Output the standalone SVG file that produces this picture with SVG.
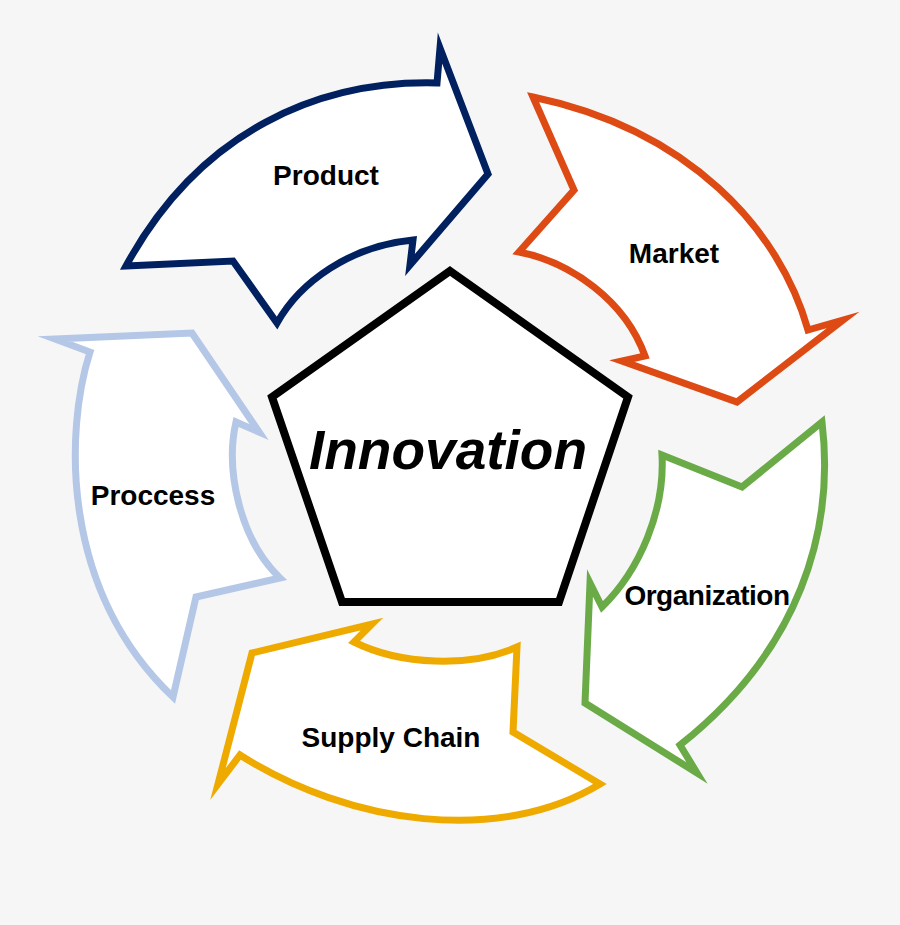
<svg xmlns="http://www.w3.org/2000/svg" width="900" height="925" viewBox="0 0 900 925">
<style>
.arrow{fill:#ffffff;stroke-width:7;stroke-linejoin:miter;stroke-miterlimit:12}
.lbl{font-family:"Liberation Sans",Arial,sans-serif;font-weight:bold;font-size:28px;fill:#000;text-anchor:middle}
.big{font-family:"Liberation Sans",Arial,sans-serif;font-weight:bold;font-style:italic;font-size:55px;fill:#000;text-anchor:middle}
</style>
<rect x="0" y="0" width="900" height="925" fill="#f6f6f6"/>
<g id="product">
<path class="arrow" stroke="#002060" d="M126 266 L233 261 L277 323 C300 282 350 246 413 240 L410 265 L488 174 L440 48 L437 83 C320 80 200 130 126 266 Z"/>
<text class="lbl" x="326" y="185">Product</text>
</g>
<g id="market">
<path class="arrow" stroke="#DE4A14" d="M533 97 L574 190 L519 252 C570 262 625 300 645 356 L622 361 L737 402 L843 320 L808 330 C780 230 690 130 533 97 Z"/>
<text class="lbl" x="674" y="263">Market</text>
</g>
<g id="organization">
<path class="arrow" stroke="#6AAB48" d="M662 455 L742 487 L822 422 C835 530 800 650 680 745 L697 773 L585 703 L590 583 L602 607 C640 570 665 510 662 455 Z"/>
<text class="lbl" x="707" y="605" style="letter-spacing:-0.5px">Organization</text>
</g>
<g id="supply-chain">
<path class="arrow" stroke="#EFAA00" d="M372 624 L354 642 C400 665 470 668 517 647 L513 732 L600 784 C500 845 350 825 240 755 L218 784 L252 653 Z"/>
<text class="lbl" x="391" y="747">Supply Chain</text>
</g>
<g id="process">
<path class="arrow" stroke="#B4C7E7" d="M55 339 L192 333 L259 432 L236 422 C225 470 240 540 280 578 L196 597 L173 697 C60 590 65 430 90 352 Z"/>
<text class="lbl" x="153" y="505">Proccess</text>
</g>
<g id="innovation">
<path d="M450 271 L628 397 L559 602 L342 602 L272 397 Z" fill="#ffffff" stroke="#000000" stroke-width="8" stroke-linejoin="miter"/>
<text class="big" x="448" y="469">Innovation</text>
</g>
<g id="connectors"></g>
</svg>
